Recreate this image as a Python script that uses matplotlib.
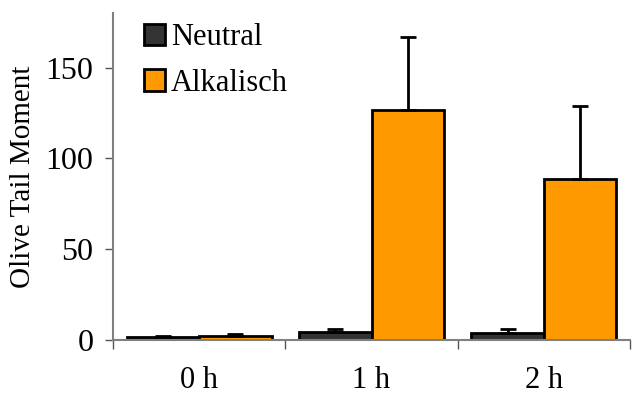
import numpy as np
import matplotlib.pyplot as plt
from matplotlib.patches import Patch

plt.rcParams['font.family'] = ['Liberation Serif', 'DejaVu Serif']

# data
categories = ['0 h', '1 h', '2 h']
neutral = [1.5, 4.5, 4.0]
neutral_err = [0.8, 1.3, 2.0]
alkalisch = [2.0, 126.5, 88.5]
alkalisch_err = [1.3, 40.5, 40.5]
series_names = ['Neutral', 'Alkalisch']

fig = plt.figure(figsize=(6.39, 3.98), dpi=100)
ax = fig.add_axes([113 / 639, 58 / 398, 517 / 639, 327 / 398])

x = np.arange(len(categories)) + 0.5
w = 0.42
err_kw = dict(ecolor='black', elinewidth=2, capsize=6, capthick=2)
ax.bar(x - w / 2, neutral, w, yerr=[np.zeros(3), neutral_err], color='#333333',
       edgecolor='black', linewidth=2, error_kw=err_kw, zorder=2)
ax.bar(x + w / 2, alkalisch, w, yerr=[np.zeros(3), alkalisch_err], color='#FF9900',
       edgecolor='black', linewidth=2, error_kw=err_kw, zorder=2)

ax.set_xlim(0, 3)
ax.set_ylim(0, 180)
ax.set_yticks([0, 50, 100, 150])
ax.set_xticks([0, 1, 2, 3])
ax.set_xticklabels([])
ax.set_xticks(x, minor=True)
ax.set_xticklabels(categories, minor=True)
ax.tick_params(axis='x', which='minor', length=0, pad=19, labelsize=22)
ax.tick_params(axis='x', which='major', length=6.5, color='#555555', width=1)
ax.tick_params(axis='y', length=6, color='#555555', width=1, labelsize=23, pad=8)

for s in ['top', 'right']:
    ax.spines[s].set_visible(False)
for s in ['left', 'bottom']:
    ax.spines[s].set_color('#808080')
    ax.spines[s].set_linewidth(1.5)

ax.set_ylabel('Olive Tail Moment', fontsize=21, labelpad=7)

handles = [Patch(facecolor='#333333', edgecolor='black', linewidth=2),
           Patch(facecolor='#FF9900', edgecolor='black', linewidth=2)]
ax.legend(handles, series_names, loc='upper left', bbox_to_anchor=(0.06, 0.97),
          frameon=False, fontsize=22, handlelength=0.69, handleheight=0.69,
          handletextpad=0.2, labelspacing=0.55, borderaxespad=0, borderpad=0)

fig.savefig('out.png', dpi=100)
